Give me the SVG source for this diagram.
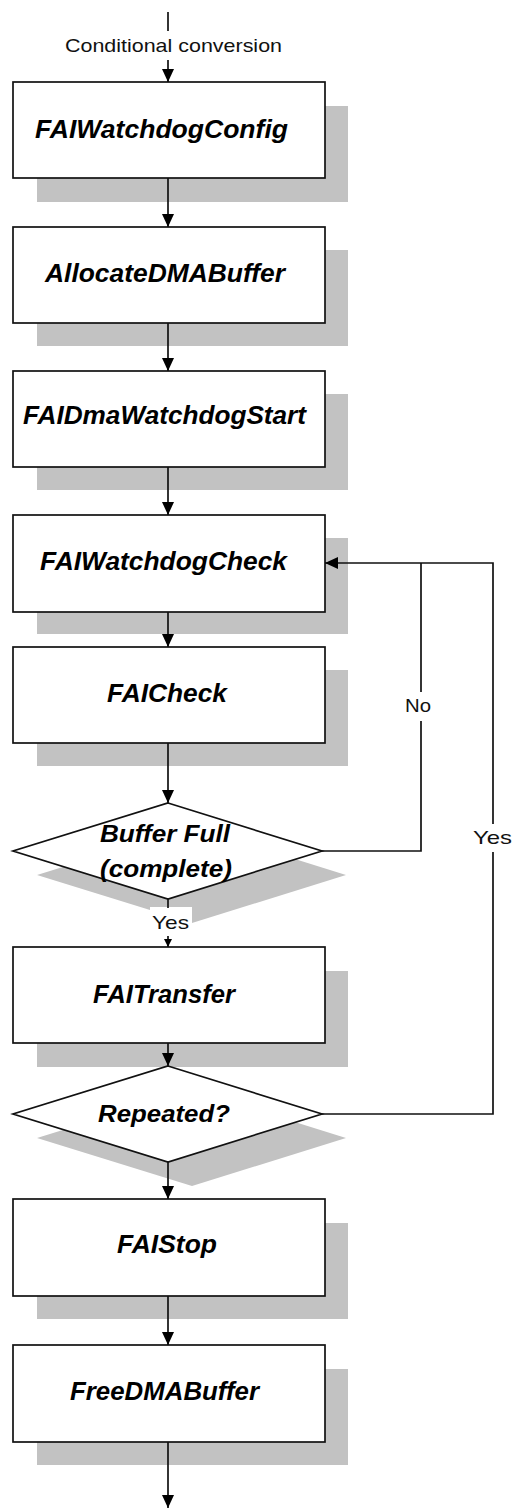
<svg xmlns="http://www.w3.org/2000/svg" width="515" height="1509" viewBox="0 0 515 1509">
<style>
.sh{fill:#c2c2c2;stroke:none}
.bx{fill:#fff;stroke:#111;stroke-width:1.7}
.t{font-family:"Liberation Sans",Arial,sans-serif;font-weight:bold;font-style:italic;font-size:25px;fill:#000}
.td{font-family:"Liberation Sans",Arial,sans-serif;font-weight:bold;font-style:italic;font-size:23px;fill:#000}
.lb{font-family:"Liberation Sans",Arial,sans-serif;font-size:19px;fill:#111}
.ln{fill:none;stroke:#111;stroke-width:1.7}
</style>
<defs>
<marker id="ah" markerUnits="userSpaceOnUse" markerWidth="15" markerHeight="13" refX="13" refY="6" orient="auto">
<path d="M0,0 L13,6 L0,12 z" fill="#000"/>
</marker>
<marker id="ahs" markerUnits="userSpaceOnUse" markerWidth="9" markerHeight="9" refX="8" refY="4" orient="auto">
<path d="M0,0 L8,4 L0,8 z" fill="#000"/>
</marker>
</defs>
<rect width="515" height="1509" fill="#fff"/>

<g id="n1">
<rect class="sh" x="37" y="106" width="311" height="96"/>
<rect class="bx" x="13" y="82" width="312" height="96"/>
<text class="t" x="35" y="138" textLength="253" lengthAdjust="spacingAndGlyphs">FAIWatchdogConfig</text>
</g>
<g id="n2">
<rect class="sh" x="37" y="250" width="311" height="96"/>
<rect class="bx" x="13" y="227" width="312" height="96"/>
<text class="t" x="45" y="282" textLength="240" lengthAdjust="spacingAndGlyphs">AllocateDMABuffer</text>
</g>
<g id="n3">
<rect class="sh" x="37" y="394" width="311" height="96"/>
<rect class="bx" x="13" y="371" width="312" height="96"/>
<text class="t" x="23" y="424" textLength="283" lengthAdjust="spacingAndGlyphs">FAIDmaWatchdogStart</text>
</g>
<g id="n4">
<rect class="sh" x="37" y="538" width="311" height="96"/>
<rect class="bx" x="13" y="515" width="312" height="97"/>
<text class="t" x="40" y="570" textLength="247" lengthAdjust="spacingAndGlyphs">FAIWatchdogCheck</text>
</g>
<g id="n5">
<rect class="sh" x="37" y="670" width="311" height="96"/>
<rect class="bx" x="13" y="647" width="312" height="96"/>
<text class="t" x="107" y="702" textLength="120" lengthAdjust="spacingAndGlyphs">FAICheck</text>
</g>
<g id="d1">
<polygon class="sh" points="192,827 346,875 192,923 37,875"/>
<polygon class="bx" points="168,803 322,851 168,899 13,851"/>
<text class="td" x="100" y="842" textLength="130" lengthAdjust="spacingAndGlyphs">Buffer Full</text>
<text class="td" x="100" y="877" textLength="132" lengthAdjust="spacingAndGlyphs">(complete)</text>
</g>
<g id="n6">
<rect class="sh" x="37" y="971" width="311" height="96"/>
<rect class="bx" x="13" y="947" width="312" height="96"/>
<text class="t" x="93" y="1003" textLength="142" lengthAdjust="spacingAndGlyphs">FAITransfer</text>
</g>
<g id="d2">
<polygon class="sh" points="192,1090 346,1138 192,1186 37,1138"/>
<polygon class="bx" points="168,1066 322,1114 168,1162 13,1114"/>
<text class="td" x="98" y="1122" textLength="132" lengthAdjust="spacingAndGlyphs">Repeated?</text>
</g>
<g id="n7">
<rect class="sh" x="37" y="1223" width="311" height="96"/>
<rect class="bx" x="13" y="1199" width="312" height="97"/>
<text class="t" x="117" y="1253" textLength="100" lengthAdjust="spacingAndGlyphs">FAIStop</text>
</g>
<g id="n8">
<rect class="sh" x="37" y="1369" width="311" height="96"/>
<rect class="bx" x="13" y="1345" width="312" height="97"/>
<text class="t" x="70" y="1400" textLength="189" lengthAdjust="spacingAndGlyphs">FreeDMABuffer</text>
</g>

<g id="connectors">
<line class="ln" x1="168" y1="12" x2="168" y2="31"/>
<text class="lb" x="65" y="52" textLength="217" lengthAdjust="spacingAndGlyphs">Conditional conversion</text>
<line class="ln" x1="168" y1="60" x2="168" y2="82" marker-end="url(#ah)"/>
<line class="ln" x1="168" y1="178" x2="168" y2="227" marker-end="url(#ah)"/>
<line class="ln" x1="168" y1="323" x2="168" y2="371" marker-end="url(#ah)"/>
<line class="ln" x1="168" y1="467" x2="168" y2="515" marker-end="url(#ah)"/>
<line class="ln" x1="168" y1="612" x2="168" y2="647" marker-end="url(#ah)"/>
<line class="ln" x1="168" y1="743" x2="168" y2="803" marker-end="url(#ah)"/>
<rect x="150" y="907" width="42" height="30" fill="#fff"/>
<line class="ln" x1="168" y1="899" x2="168" y2="908"/>
<text class="lb" x="152" y="929" textLength="37" lengthAdjust="spacingAndGlyphs">Yes</text>
<line class="ln" x1="168" y1="936" x2="168" y2="947" marker-end="url(#ahs)"/>
<polyline class="ln" points="322,851 421,851 421,721"/>
<text class="lb" x="405" y="712" textLength="26" lengthAdjust="spacingAndGlyphs">No</text>
<line class="ln" x1="421" y1="692" x2="421" y2="563"/>
<polyline class="ln" points="322,1114 493,1114 493,852"/>
<text class="lb" x="473" y="844" textLength="39" lengthAdjust="spacingAndGlyphs">Yes</text>
<polyline class="ln" points="493,824 493,563 325,563" marker-end="url(#ah)"/>
<line class="ln" x1="168" y1="1043" x2="168" y2="1066" marker-end="url(#ah)"/>
<line class="ln" x1="168" y1="1162" x2="168" y2="1199" marker-end="url(#ah)"/>
<line class="ln" x1="168" y1="1296" x2="168" y2="1345" marker-end="url(#ah)"/>
<line class="ln" x1="168" y1="1442" x2="168" y2="1508" marker-end="url(#ah)"/>
</g>
</svg>
